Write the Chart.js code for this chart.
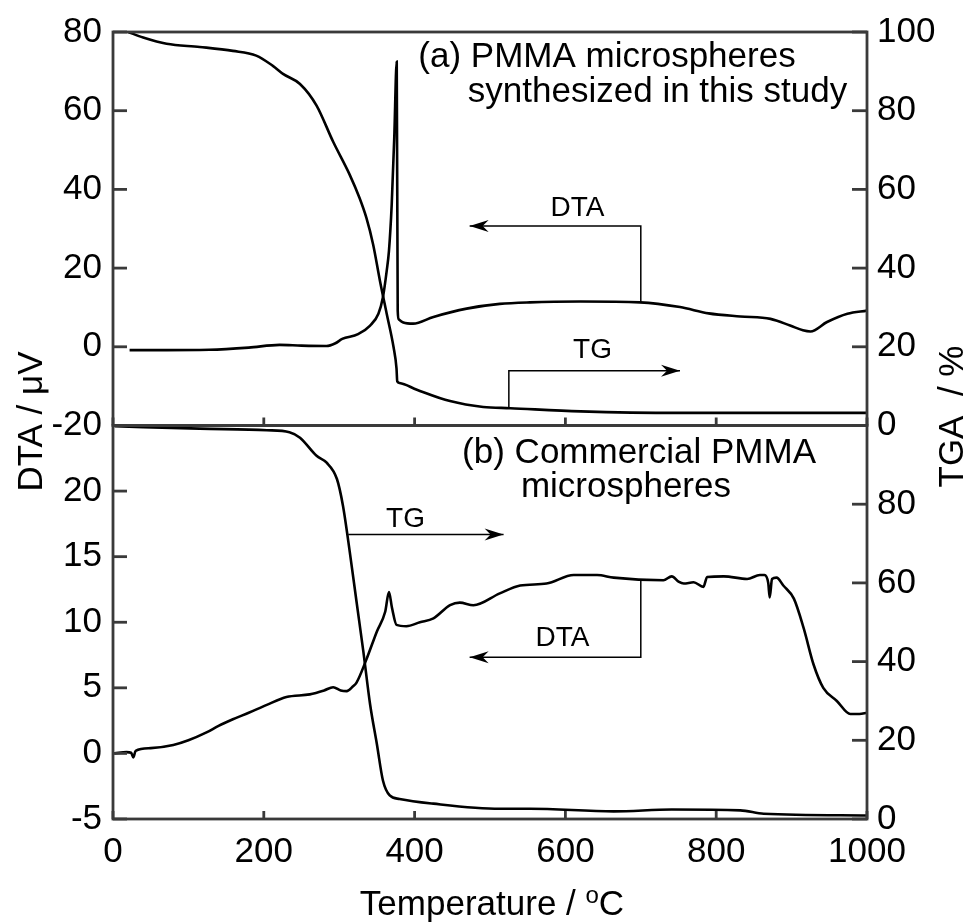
<!DOCTYPE html>
<html>
<head>
<meta charset="utf-8">
<title>DTA / TGA of PMMA microspheres</title>
<script src="https://cdn.jsdelivr.net/npm/chart.js@4.4.1/dist/chart.umd.min.js"></script>
<style>
  html, body { margin: 0; padding: 0; background: #fff; }
  canvas { display: block; }
</style>
</head>
<body>
<canvas id="thermoChart" width="968" height="922"></canvas>
<script>
// [temperature degC, value] pairs; DTA in microvolts, TG in mass %
var dtaSynth = [[22,-0.85],[60,-0.85],[128,-0.75],[180,-0.2],[221,0.5],[250,0.3],[283,0.2],[295,0.9],
  [304,2.0],[325,3.2],[341,5.4],[352,8.4],[358,12.6],[363,19.3],[366,24.4],[369.6,36],[373,53],
  [376.3,72.5],[377.6,9.2],[379,7],[385,6.2],[398,5.9],[425,7.6],[469,9.7],[513,10.9],[553,11.3],
  [620,11.5],[699,11.3],[752,10.1],[790,8.5],[832,7.7],[872,7.1],[898,5.4],[915,4.2],[925,3.9],
  [947,6.3],[974,8.4],[1000,9.2]];
var tgSynth = [[20,100],[40,98.6],[71,97],[115,96.2],[159,95.2],[190,94],[212,91.4],[226,89.3],
  [248,86.8],[270,81.3],[292,72.1],[314,63.7],[327,57.8],[336,52.8],[345,46],[354,36.8],[363,28.4],
  [372,20],[376,14.5],[377,11.2],[380,10.8],[403,9.1],[447,6.2],[491,4.7],[527,4.4],[620,3.6],
  [752,3.2],[1000,3.2]];
var dtaComm = [[2,0],[18,0.1],[24,0.05],[27,-0.3],[30,0.2],[50,0.4],[80,0.64],[100,1.0],[124,1.6],
  [140,2.1],[159,2.6],[180,3.1],[204,3.7],[230,4.3],[261,4.5],[280,4.8],[292,5.05],[302,4.8],
  [310,4.75],[318,5.1],[323,5.4],[336,7.15],[350,9.3],[361,10.8],[366,12.3],[370,11.1],[376,9.8],
  [389,9.7],[407,10.0],[425,10.3],[447,11.3],[460,11.5],[478,11.3],[513,12.2],[540,12.8],
  [575,12.95],[611,13.6],[642,13.6],[664,13.4],[730,13.2],[741,13.5],[750,13.1],[757,12.95],
  [770,13.05],[783,12.7],[788,13.45],[810,13.5],[841,13.3],[858,13.6],[864,13.6],[869,13.0],
  [871,11.9],[874,13.3],[880,13.4],[889,12.8],[903,11.8],[916,9.55],[929,6.8],[942,5.0],
  [960,4.0],[978,3.0],[990,3.0],[1000,3.1]];
var tgComm = [[2,99.8],[115,99.2],[204,98.8],[234,98.3],[248,96.9],[270,92.3],[283,90.6],[297,86.4],
  [305,79.6],[314,67.9],[323,55.2],[332,42.6],[341,29.1],[350,19],[358,9.8],[367,6],[380,5.1],
  [425,3.9],[513,2.6],[553,2.6],[664,1.95],[741,2.4],[832,2.2],[863,1.35],[1000,0.9]];

var tempTicks = [0, 200, 400, 600, 800, 1000];
var dtaTopTicks = [-20, 0, 20, 40, 60, 80];
var dtaBotTicks = [-5, 0, 5, 10, 15, 20];
var tgaTopTicks = [0, 20, 40, 60, 80, 100];
var tgaBotTicks = [0, 20, 40, 60, 80];

var fontFamily = "'Liberation Sans', Arial, Helvetica, sans-serif";
var frameColor = '#3a3a3a';

function toPoints(series) {
  return series.map(function (p) { return {x: p[0], y: p[1]}; });
}

// linear lookup on a series, used to start the brackets on the curve
function valueAt(series, t) {
  for (var i = 1; i < series.length; i++) {
    if (series[i][0] >= t) {
      var a = series[i - 1], b = series[i];
      return a[1] + (b[1] - a[1]) * (t - a[0]) / (b[0] - a[0]);
    }
  }
  return series[series.length - 1][1];
}

function fixedTicks(list) {
  return function (scale) {
    scale.ticks = list.map(function (v) { return {value: v}; });
  };
}

function plainLabel(value) {
  return String(value);
}

// bracket arrows: [x, y] in data units of the given scale, last point is the tip
var brackets = [
  {scale: 'yTopL', text: 'DTA', label: [616, 33.2], path: [[700, valueAt(dtaSynth, 700)], [700, 30.7], [473, 30.7]]},
  {scale: 'yTopR', text: 'TG', label: [636, 17.1], path: [[525, valueAt(tgSynth, 525)], [525, 13.9], [752, 13.9]]},
  {scale: 'yBotR', text: 'TG', label: [388, 74.2], path: [[312, 72.3], [518, 72.3]]},
  {scale: 'yBotL', text: 'DTA', label: [596, 8.16], path: [[700, valueAt(dtaComm, 700)], [700, 7.33], [473, 7.33]]}
];

var panelTitles = [
  {scale: 'yTopL', lines: [['(a) PMMA microspheres', 405, 71.0], ['synthesized in this study', 470.6, 62.2]]},
  {scale: 'yBotL', lines: [['(b) Commercial PMMA', 463, 22.17], ['microspheres', 541, 19.52]]}
];

function arrowHead(ctx, x, y, dir) {
  ctx.beginPath();
  ctx.moveTo(x, y);
  ctx.lineTo(x - dir * 19, y - 6);
  ctx.lineTo(x - dir * 13, y);
  ctx.lineTo(x - dir * 19, y + 6);
  ctx.closePath();
  ctx.fill();
}

var framePlugin = {
  id: 'panelFrames',
  afterDatasetsDraw: function (chart) {
    var ctx = chart.ctx, area = chart.chartArea, s = chart.scales;
    ctx.save();
    ctx.strokeStyle = frameColor;
    ctx.lineWidth = 2.8;
    ctx.lineCap = 'butt';
    function seg(x1, y1, x2, y2) {
      ctx.beginPath(); ctx.moveTo(x1, y1); ctx.lineTo(x2, y2); ctx.stroke();
    }
    [s.yTopL, s.yBotL].forEach(function (ys) {
      ctx.strokeRect(area.left, ys.top, area.right - area.left, ys.bottom - ys.top);
      s.x.ticks.forEach(function (t) {
        var px = s.x.getPixelForValue(t.value);
        seg(px, ys.bottom, px, ys.bottom - 8);
      });
      ys.ticks.forEach(function (t) {
        var py = ys.getPixelForValue(t.value);
        seg(area.left, py, area.left + 14, py);
      });
    });
    [s.yTopR, s.yBotR].forEach(function (ys) {
      ys.ticks.forEach(function (t) {
        var py = ys.getPixelForValue(t.value);
        seg(area.right, py, area.right - 15, py);
      });
    });
    ctx.restore();
  },
  afterDraw: function (chart) {
    var ctx = chart.ctx, area = chart.chartArea, s = chart.scales;
    ctx.save();
    ctx.fillStyle = '#000';
    ctx.strokeStyle = '#000';

    // annotation brackets
    ctx.lineWidth = 1.5;
    ctx.font = '28px ' + fontFamily;
    ctx.textAlign = 'center';
    ctx.textBaseline = 'alphabetic';
    brackets.forEach(function (b) {
      var ys = s[b.scale];
      var pts = b.path.map(function (p) {
        return [s.x.getPixelForValue(p[0]), ys.getPixelForValue(p[1])];
      });
      ctx.beginPath();
      ctx.moveTo(pts[0][0], pts[0][1]);
      for (var i = 1; i < pts.length; i++) ctx.lineTo(pts[i][0], pts[i][1]);
      ctx.stroke();
      var tip = pts[pts.length - 1], prev = pts[pts.length - 2];
      arrowHead(ctx, tip[0], tip[1], tip[0] > prev[0] ? 1 : -1);
      ctx.fillText(b.text, s.x.getPixelForValue(b.label[0]), ys.getPixelForValue(b.label[1]));
    });

    // panel captions
    ctx.font = '35px ' + fontFamily;
    ctx.textAlign = 'left';
    panelTitles.forEach(function (pt) {
      var ys = s[pt.scale];
      pt.lines.forEach(function (l) {
        ctx.fillText(l[0], s.x.getPixelForValue(l[1]), ys.getPixelForValue(l[2]));
      });
    });

    // axis titles
    var midY = s.yTopL.bottom;
    ctx.textAlign = 'center';
    ctx.save();
    ctx.translate(42, midY - 4);
    ctx.rotate(-Math.PI / 2);
    ctx.fillText('DTA / \u03bcV', 0, 0);
    ctx.restore();
    ctx.save();
    ctx.translate(963, midY - 9);
    ctx.rotate(-Math.PI / 2);
    ctx.fillText('TGA  / %', 0, 0);
    ctx.restore();

    // x title with superscript degree "o"
    var main = 'Temperature / ', sup = 'o', unit = 'C';
    ctx.font = '35px ' + fontFamily;
    var wMain = ctx.measureText(main).width, wUnit = ctx.measureText(unit).width;
    ctx.font = '24px ' + fontFamily;
    var wSup = ctx.measureText(sup).width;
    var x0 = (area.left + area.right) / 2 + 2 - (wMain + wSup + wUnit) / 2;
    var base = 915;
    ctx.textAlign = 'left';
    ctx.font = '35px ' + fontFamily;
    ctx.fillText(main, x0, base);
    ctx.fillText(unit, x0 + wMain + wSup, base);
    ctx.font = '24px ' + fontFamily;
    ctx.fillText(sup, x0 + wMain, base - 12);
    ctx.restore();
  }
};

function yScale(pos, order, min, max, list) {
  return {
    type: 'linear',
    position: pos,
    stack: pos,
    stackWeight: 1,
    weight: order,
    min: min,
    max: max,
    afterBuildTicks: fixedTicks(list),
    grid: {display: false, drawTicks: false},
    border: {display: false},
    ticks: {
      color: '#000',
      padding: pos === 'left' ? 11 : 10,
      autoSkip: false,
      callback: plainLabel,
      font: {family: fontFamily, size: 35}
    },
    afterFit: function (scale) {
      scale.width = pos === 'left' ? 113 : 101;
    }
  };
}

var lineStyle = {
  borderColor: '#000',
  borderWidth: 2.6,
  pointRadius: 0,
  fill: false,
  cubicInterpolationMode: 'monotone'
};

var ctx = document.getElementById('thermoChart').getContext('2d');
var thermoChart = new Chart(ctx, {
  type: 'line',
  data: {
    datasets: [
      Object.assign({label: 'DTA (a)', data: toPoints(dtaSynth), yAxisID: 'yTopL'}, lineStyle),
      Object.assign({label: 'TG (a)', data: toPoints(tgSynth), yAxisID: 'yTopR'}, lineStyle),
      Object.assign({label: 'DTA (b)', data: toPoints(dtaComm), yAxisID: 'yBotL'}, lineStyle),
      Object.assign({label: 'TG (b)', data: toPoints(tgComm), yAxisID: 'yBotR'}, lineStyle)
    ]
  },
  options: {
    responsive: false,
    devicePixelRatio: 1,
    animation: false,
    events: [],
    layout: {padding: {top: 26, left: 0, right: 0, bottom: 0}},
    plugins: {legend: {display: false}, tooltip: {enabled: false}},
    scales: {
      x: {
        type: 'linear',
        position: 'bottom',
        min: 0,
        max: 1000,
        afterBuildTicks: fixedTicks(tempTicks),
        grid: {display: false, drawTicks: false},
        border: {display: false},
        ticks: {
          color: '#000',
          padding: 12,
          autoSkip: false,
          maxRotation: 0,
          callback: plainLabel,
          font: {family: fontFamily, size: 35}
        },
        afterFit: function (scale) { scale.height = 103; }
      },
      // left: higher weight sorts to the top of the stack, right: lower weight
      yTopL: yScale('left', 1, -20, 80, dtaTopTicks),
      yBotL: yScale('left', 0, -5, 25, dtaBotTicks),
      yTopR: yScale('right', 0, 0, 100, tgaTopTicks),
      yBotR: yScale('right', 1, 0, 100, tgaBotTicks)
    }
  },
  plugins: [framePlugin]
});
</script>
</body>
</html>
